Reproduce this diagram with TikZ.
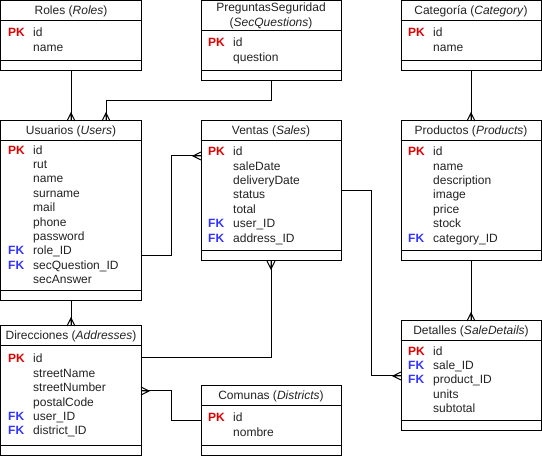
\documentclass[tikz,border=0pt]{standalone}
\usepackage{fontspec}
\setmainfont{Liberation Sans}
\usetikzlibrary{calc}
\definecolor{pkc}{RGB}{224,0,0}
\definecolor{fkc}{RGB}{51,51,255}
\definecolor{txt}{RGB}{34,34,34}
\newcommand\PK{\textcolor{pkc}{\textbf{PK}}}
\newcommand\FK{\textcolor{fkc}{\textbf{FK}}}
\newcommand\rw[1]{\strut #1}
\tikzset{
  tbl/.style={draw, line width=1pt, minimum width=140pt, inner sep=0pt, outer sep=0pt, anchor=north west},
  sepline/.style={line width=1pt},
  ttl/.style={text=txt, inner sep=0pt, font=\fontsize{12}{15}\selectfont, align=center},
  col/.style={text=txt, inner sep=0pt, anchor=west, align=left, font=\fontsize{12}{14.4}\selectfont},
  conn/.style={line width=1pt},
  crowT/.pic={\draw[conn] (-4,0) -- (0,-8) -- (4,0) (0,-8) -- (0,0);},
  crowB/.pic={\draw[conn] (-4,0) -- (0,8) -- (4,0) (0,8) -- (0,0);},
  crowL/.pic={\draw[conn] (0,-4) -- (-8,0) -- (0,4) (-8,0) -- (0,0);},
  crowR/.pic={\draw[conn] (0,-4) -- (8,0) -- (0,4) (8,0) -- (0,0);},
}
% #1 name #2 x #3 y #4 header h #5 body h #6 title #7 keys #8 fields
\newcommand\ertable[8]{%
  \node[tbl, minimum height={#4+#5+10}] (#1) at (#2,#3) {};
  \draw[sepline] ($(#1.north west)+(0,#4)$) -- ($(#1.north east)+(0,#4)$);
  \draw[sepline] ($(#1.north west)+(0,#4+#5)$) -- ($(#1.north east)+(0,#4+#5)$);
  \node[ttl] (#1-t) at ($(#1.north)+(0,#4/2)$) {#6};
  \node[col] (#1-k) at ($(#1.north west)+(7,#4+#5/2)$) {#7};
  \node[col] (#1-f) at ($(#1.north west)+(32,#4+#5/2)$) {#8};
}
\begin{document}
\begin{tikzpicture}[x=1pt,y=-1pt]
\useasboundingbox (-0.5,-0.5) rectangle (541.5,456.5);

\ertable{rol}{0.5}{0.5}{20}{40}{Roles (\textit{Roles})}
  {\rw{\PK}\\\rw{}}
  {\rw{id}\\\rw{name}}

\ertable{preg}{200.5}{0.5}{30}{40}{PreguntasSeguridad\\(\textit{SecQuestions})}
  {\rw{\PK}\\\rw{}}
  {\rw{id}\\\rw{question}}

\ertable{cat}{400.5}{0.5}{20}{40}{Categoría (\textit{Category})}
  {\rw{\PK}\\\rw{}}
  {\rw{id}\\\rw{name}}

\ertable{usu}{0.5}{120.5}{20}{150}{Usuarios (\textit{Users})}
  {\rw{\PK}\\\rw{}\\\rw{}\\\rw{}\\\rw{}\\\rw{}\\\rw{}\\\rw{\FK}\\\rw{\FK}\\\rw{}}
  {\rw{id}\\\rw{rut}\\\rw{name}\\\rw{surname}\\\rw{mail}\\\rw{phone}\\\rw{password}\\\rw{role\_ID}\\\rw{secQuestion\_ID}\\\rw{secAnswer}}

\ertable{ven}{200.5}{120.5}{20}{110}{Ventas (\textit{Sales})}
  {\rw{\PK}\\\rw{}\\\rw{}\\\rw{}\\\rw{}\\\rw{\FK}\\\rw{\FK}}
  {\rw{id}\\\rw{saleDate}\\\rw{deliveryDate}\\\rw{status}\\\rw{total}\\\rw{user\_ID}\\\rw{address\_ID}}

\ertable{prod}{400.5}{120.5}{20}{110}{Productos (\textit{Products})}
  {\rw{\PK}\\\rw{}\\\rw{}\\\rw{}\\\rw{}\\\rw{}\\\rw{\FK}}
  {\rw{id}\\\rw{name}\\\rw{description}\\\rw{image}\\\rw{price}\\\rw{stock}\\\rw{category\_ID}}

\ertable{det}{400.5}{320.5}{20}{80}{Detalles (\textit{SaleDetails})}
  {\rw{\PK}\\\rw{\FK}\\\rw{\FK}\\\rw{}\\\rw{}}
  {\rw{id}\\\rw{sale\_ID}\\\rw{product\_ID}\\\rw{units}\\\rw{subtotal}}

\ertable{dir}{0.5}{325.5}{20}{100}{Direcciones (\textit{Addresses})}
  {\rw{\PK}\\\rw{}\\\rw{}\\\rw{}\\\rw{\FK}\\\rw{\FK}}
  {\rw{id}\\\rw{streetName}\\\rw{streetNumber}\\\rw{postalCode}\\\rw{user\_ID}\\\rw{district\_ID}}

\ertable{com}{200.5}{385.5}{20}{40}{Comunas (\textit{Districts})}
  {\rw{\PK}\\\rw{}}
  {\rw{id}\\\rw{nombre}}

% connectors
\draw[conn] (rol.south) -- (usu.north);
\pic at (usu.north) {crowT};

\coordinate (usuIn2) at ($(usu.north west)+(105,0)$);
\draw[conn] (preg.south) -- ++(0,20) -| (usuIn2);
\pic at (usuIn2) {crowT};

\draw[conn] (cat.south) -- (prod.north);
\pic at (prod.north) {crowT};

\draw[conn] (prod.south) -- (det.north);
\pic at (det.north) {crowT};

\draw[conn] (usu.south) -- (dir.north);
\pic at (dir.north) {crowT};

\coordinate (u1) at ($(usu.north east)+(0,135)$);
\coordinate (v1) at ($(ven.north west)+(0,35)$);
\draw[conn] (u1) -- ++(30,0) |- (v1);
\pic at (v1) {crowL};

\coordinate (v2) at ($(ven.north east)+(0,70)$);
\coordinate (d1) at ($(det.north west)+(0,55)$);
\draw[conn] (v2) -- ++(30,0) |- (d1);
\pic at (d1) {crowL};

\coordinate (dr1) at ($(dir.north east)+(0,32)$);
\draw[conn] (ven.south) |- (dr1);
\pic at (ven.south) {crowB};

\coordinate (dr2) at ($(dir.north east)+(0,65)$);
\coordinate (c1) at ($(com.north west)+(0,35)$);
\draw[conn] (dr2) -- ++(30,0) |- (c1);
\pic at (dr2) {crowR};
\end{tikzpicture}
\end{document}
